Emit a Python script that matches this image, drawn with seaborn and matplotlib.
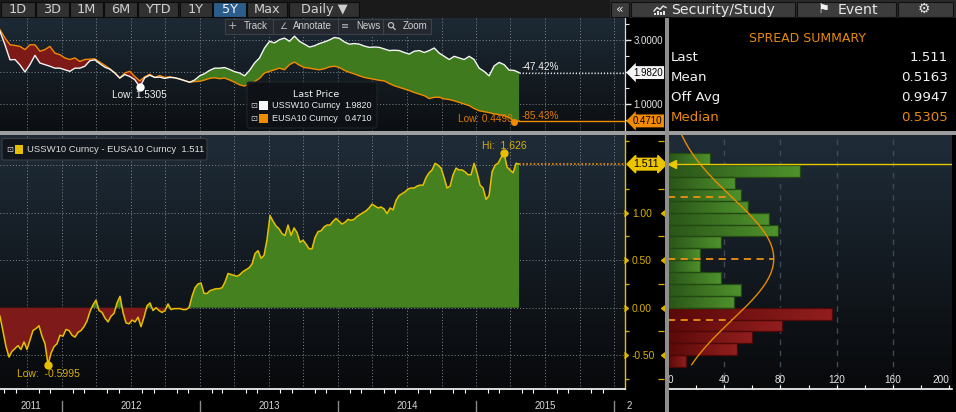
import numpy as np
import pandas as pd
import matplotlib
matplotlib.use("Agg")
import matplotlib.pyplot as plt
import matplotlib.dates as mdates
from matplotlib.colors import LinearSegmentedColormap
from matplotlib.patches import Rectangle, FancyBboxPatch, Circle
import seaborn as sns

# ---------------------------------------------------------------- data
start_date = "2011-07-22"
end_date = "2015-04-24"
view_end = "2016-01-29"

# USSW10 Curncy (white) and EUSA10 Curncy (orange), sampled evenly in time
ussw10 = [3.27, 2.85, 2.38, 2.39, 2.22, 2.00, 2.23, 2.52, 2.28, 2.23,
          2.18, 2.12, 2.12, 2.07, 2.02, 2.12, 2.12, 2.18, 2.35, 2.38,
          2.26, 2.15, 2.09, 1.97, 1.81, 1.92, 1.86, 1.76, 1.5305, 1.82,
          1.90, 1.83, 1.84, 1.80, 1.83, 1.82, 1.78, 1.73, 1.68, 1.75,
          1.88, 1.95, 2.05, 2.12, 2.12, 2.14, 2.08, 2.01, 1.97, 1.88,
          2.05, 2.28, 2.44, 2.75, 2.96, 2.91, 3.01, 3.06, 2.96, 3.12,
          2.96, 2.87, 2.78, 2.82, 2.89, 2.94, 3.00, 3.08, 3.05, 2.94,
          2.87, 2.89, 2.87, 2.81, 2.77, 2.78, 2.77, 2.72, 2.67, 2.68,
          2.67, 2.61, 2.56, 2.65, 2.67, 2.61, 2.67, 2.75, 2.59, 2.49,
          2.39, 2.49, 2.44, 2.39, 2.49, 2.39, 2.12, 2.02, 1.88, 2.19,
          2.30, 2.23, 2.06, 2.05, 1.982]
eusa10 = [3.32, 3.06, 2.85, 2.83, 2.80, 2.70, 2.85, 2.85, 2.65, 2.70,
          2.80, 2.59, 2.54, 2.44, 2.39, 2.44, 2.33, 2.39, 2.40, 2.41,
          2.31, 2.21, 2.10, 1.97, 1.81, 1.97, 2.02, 1.86, 1.72, 1.85,
          1.93, 1.83, 1.89, 1.83, 1.85, 1.82, 1.78, 1.73, 1.68, 1.70,
          1.71, 1.75, 1.80, 1.82, 1.79, 1.81, 1.75, 1.68, 1.60, 1.56,
          1.63, 1.70, 1.80, 1.97, 2.02, 2.07, 2.12, 2.07, 2.23, 2.31,
          2.21, 2.14, 2.12, 2.09, 2.07, 2.10, 2.16, 2.18, 2.14, 2.05,
          1.99, 1.94, 1.88, 1.83, 1.80, 1.77, 1.74, 1.72, 1.64, 1.57,
          1.52, 1.47, 1.42, 1.36, 1.31, 1.26, 1.17, 1.21, 1.21, 1.16,
          1.14, 1.10, 1.05, 1.00, 0.95, 0.86, 0.79, 0.76, 0.73, 0.69,
          0.67, 0.63, 0.58, 0.449, 0.471]

# USSW10 - EUSA10 spread, sampled evenly in time
spread = [-0.09, -0.25, -0.41, -0.52, -0.46, -0.43, -0.40, -0.44, -0.36, -0.44,
          -0.34, -0.24, -0.22, -0.19, -0.30, -0.38, -0.5995, -0.48, -0.41, -0.38,
          -0.29, -0.30, -0.23, -0.24, -0.29, -0.31, -0.26, -0.24, -0.20, -0.14,
          -0.04, 0.03, 0.08, -0.03, -0.05, -0.11, -0.15, -0.09, -0.06, 0.05,
          0.12, -0.05, -0.16, -0.17, -0.13, -0.15, -0.10, -0.20, -0.10, 0.02,
          0.05, -0.03, 0.00, -0.03, -0.05, -0.03, 0.04, -0.02, -0.01, -0.01,
          -0.01, -0.02, -0.02, 0.00, 0.12, 0.21, 0.25, 0.26, 0.15, 0.15,
          0.18, 0.19, 0.20, 0.20, 0.21, 0.27, 0.36, 0.35, 0.34, 0.33,
          0.35, 0.38, 0.40, 0.42, 0.46, 0.57, 0.60, 0.52, 0.55, 0.72,
          0.97, 0.91, 0.86, 0.83, 0.78, 0.76, 0.87, 0.76, 0.84, 0.79,
          0.69, 0.71, 0.67, 0.62, 0.62, 0.74, 0.80, 0.81, 0.85, 0.87,
          0.87, 0.91, 0.94, 0.91, 0.88, 0.90, 0.93, 0.92, 0.93, 0.96,
          0.98, 1.00, 1.02, 1.05, 1.09, 1.07, 1.05, 1.06, 1.04, 0.99,
          1.05, 1.03, 1.13, 1.18, 1.20, 1.22, 1.25, 1.26, 1.26, 1.28,
          1.29, 1.29, 1.37, 1.42, 1.45, 1.52, 1.50, 1.47, 1.37, 1.26,
          1.28, 1.40, 1.47, 1.45, 1.45, 1.43, 1.40, 1.40, 1.52, 1.42,
          1.29, 1.26, 1.14, 1.18, 1.43, 1.50, 1.52, 1.58, 1.626, 1.48,
          1.45, 1.42, 1.52, 1.511]

ussw10_chg_pct = -47.42
eusa10_chg_pct = -85.43

summary_labels = ["Last", "Mean", "Off Avg", "Median"]
summary_values = ["1.511", "0.5163", "0.9947", "0.5305"]
spread_mean = 0.5163
spread_std = 0.645

hist_lower_edges = [-0.625, -0.5, -0.375, -0.25, -0.125, 0.0, 0.125, 0.25, 0.375,
                    0.5, 0.625, 0.75, 0.875, 1.0, 1.125, 1.25, 1.375, 1.5, 1.625]
hist_counts = [13, 49, 60, 81, 117, 47, 52, 38, 23, 23, 38, 78, 72, 57, 52, 48, 94, 30, 1]
hist_bin_width = 0.125
hist_ticks = [0, 40, 80, 120, 160, 200]

range_buttons = ["1D", "3D", "1M", "6M", "YTD", "1Y", "5Y", "Max", "Daily \u25BC"]
tool_buttons = ["Track", "Annotate", "News", "Zoom"]

# ---------------------------------------------------------------- style
plt.rcParams["font.family"] = ["Liberation Sans", "DejaVu Sans"]
DJ = ["DejaVu Sans"]
LB = ["Liberation Sans", "DejaVu Sans"]

W, H = 956, 412
fig = plt.figure(figsize=(W / 100, H / 100), dpi=100, facecolor="black")


def frect(x0, y0, x1, y1):
    return [x0 / W, 1 - y1 / H, (x1 - x0) / W, (y1 - y0) / H]


def grad_bg(ax, top, bottom):
    cm = LinearSegmentedColormap.from_list("bg", [bottom, top])
    ax.imshow(np.linspace(0, 1, 256).reshape(-1, 1), extent=[0, 1, 0, 1],
              transform=ax.transAxes, origin="lower", aspect="auto", cmap=cm,
              zorder=0, interpolation="bilinear")


GRID = dict(color="#a3abb3", linestyle=(0, (1, 2.2)), linewidth=0.7, alpha=0.75)
YEL = "#e6c000"
YEL_T = "#d8b000"
ORG = "#f28b00"

x_left = mdates.date2num(pd.Timestamp(start_date).to_pydatetime())
x_right = mdates.date2num(pd.Timestamp(view_end).to_pydatetime())
top_x = mdates.date2num(pd.date_range(start_date, end_date, periods=len(ussw10)).to_pydatetime())
spr_x = mdates.date2num(pd.date_range(start_date, end_date, periods=len(spread)).to_pydatetime())
quarters = mdates.date2num(pd.date_range("2011-10-01", "2016-01-01", freq="QS").to_pydatetime())
months = mdates.date2num(pd.date_range("2011-08-01", "2016-01-01", freq="MS").to_pydatetime())
year_starts = mdates.date2num(pd.date_range("2012-01-01", "2016-01-01", freq="YS").to_pydatetime())

# ---------------------------------------------------------------- top panel
ax_t = fig.add_axes(frect(0, 18, 625, 131))
grad_bg(ax_t, "#1d2a35", "#0c0f12")
w = np.asarray(ussw10)
o = np.asarray(eusa10)
for q in quarters:
    ax_t.axvline(q, zorder=1, **GRID)
for v in (1, 2, 3):
    ax_t.axhline(v, zorder=1, **GRID)
ax_t.fill_between(top_x, w, o, where=w >= o, interpolate=True, color="#3f7a1e", lw=0, zorder=2)
ax_t.fill_between(top_x, w, o, where=w < o, interpolate=True, color="#7d1a17", lw=0, zorder=2)
sns.lineplot(x=top_x, y=o, ax=ax_t, color=ORG, linewidth=1.0, zorder=3)
sns.lineplot(x=top_x, y=w, ax=ax_t, color="#f4f4f4", linewidth=1.0, zorder=4)
ax_t.plot([top_x[-1], x_right], [w[-1], w[-1]], color="#e8e8e8", lw=0.9, ls=(0, (1, 1.5)), zorder=3)
ax_t.plot([top_x[-1], x_right], [o[-1], o[-1]], color=ORG, lw=1.0, zorder=3)

iw = int(np.argmin(w))
ax_t.plot(top_x[iw], w[iw], "o", color="white", ms=5, zorder=6)
ax_t.annotate(f"Low: {w[iw]:.4f}", xy=(top_x[iw], w[iw]), xytext=(0, -8), textcoords="offset pixels",
              ha="center", va="center", color="#f0f0f0", fontsize=7.2, zorder=6)
io = int(np.argmin(o))
ax_t.plot(top_x[io], o[io], "o", color=ORG, ms=4, zorder=6)
ax_t.annotate(f"Low: {o[io]:.4f}", xy=(top_x[io], o[io]), xytext=(-1, 3), textcoords="offset pixels",
              ha="right", va="center", color="#e07a00", fontsize=7.2, zorder=6)
ax_t.annotate(f"{ussw10_chg_pct:.2f}%", xy=(top_x[-1], w[-1]), xytext=(2, 6), textcoords="offset pixels",
              ha="left", va="center", color="#f0f0f0", fontsize=7.2, zorder=6)
ax_t.annotate(f"{eusa10_chg_pct:.2f}%", xy=(top_x[-1], o[-1]), xytext=(2, 5), textcoords="offset pixels",
              ha="left", va="center", color="#e07a00", fontsize=7.2, zorder=6)

ax_t.set_xlim(x_left, x_right)
ax_t.set_ylim(0.156, 3.6875)
ax_t.set_xticks([])
ax_t.yaxis.tick_right()
ax_t.set_yticks([1, 2, 3])
ax_t.set_yticklabels(["1.0000", "", "3.0000"])
ax_t.set_yticks([0.5, 1.5, 2.5, 3.5], minor=True)
ax_t.tick_params(axis="y", which="major", colors="#e6e6e6", labelsize=7, length=4, width=1, pad=2)
ax_t.tick_params(axis="y", which="minor", colors="#e6e6e6", length=3, width=0.8)
for sp in ("left", "top", "bottom"):
    ax_t.spines[sp].set_visible(False)
ax_t.spines["right"].set_color("#dcdcdc")
ax_t.spines["right"].set_linewidth(0.9)
ytr_t = ax_t.get_yaxis_transform()
ax_t.annotate(f"{w[-1]:.4f}", xy=(1, w[-1]), xycoords=ytr_t, xytext=(8, 0), textcoords="offset pixels",
              ha="left", va="center", fontsize=7, color="black", annotation_clip=False, zorder=10,
              bbox=dict(boxstyle="larrow,pad=0.15", fc="#f4f4f4", ec="none"))
ax_t.annotate(f"{o[-1]:.4f}", xy=(1, o[-1]), xycoords=ytr_t, xytext=(8, 0), textcoords="offset pixels",
              ha="left", va="center", fontsize=7, color="black", annotation_clip=False, zorder=10,
              bbox=dict(boxstyle="larrow,pad=0.15", fc=ORG, ec="none"))

# ---------------------------------------------------------------- spread panel
ax_b = fig.add_axes(frect(0, 135, 625, 389))
grad_bg(ax_b, "#1f2c38", "#08090b")
s = np.asarray(spread)
ax_b.fill_between(spr_x, s, 0, where=s >= 0, interpolate=True, color="#45821f", lw=0, zorder=2)
ax_b.fill_between(spr_x, s, 0, where=s < 0, interpolate=True, color="#7e1a19", lw=0, zorder=2)
sns.lineplot(x=spr_x, y=s, ax=ax_b, color=YEL, linewidth=1.1, zorder=4)
ax_b.plot([spr_x[-1], x_right], [s[-1], s[-1]], color="#f09000", lw=1.2, ls=(0, (1, 1.2)), zorder=4)

il = int(np.argmin(s))
ax_b.plot(spr_x[il], s[il], "o", color=YEL, ms=5, zorder=6)
ax_b.annotate(f"Low:  {s[il]:.4f}", xy=(spr_x[il], s[il]), xytext=(0, -9), textcoords="offset pixels",
              ha="center", va="center", color=YEL_T, fontsize=7.5, zorder=6)
ih = int(np.argmax(s))
ax_b.plot(spr_x[ih], s[ih], "o", color=YEL, ms=5, zorder=6)
ax_b.annotate(f"Hi:  {s[ih]:.3f}", xy=(spr_x[ih], s[ih]), xytext=(0, 7), textcoords="offset pixels",
              ha="center", va="center", color=YEL_T, fontsize=7.5, zorder=6)

ax_b.set_xlim(x_left, x_right)
ax_b.set_ylim(-0.856, 1.818)
ax_b.set_xticks(quarters)
ax_b.set_xticks(months, minor=True)
ax_b.tick_params(axis="x", which="major", length=0, labelbottom=False)
ax_b.tick_params(axis="x", which="minor", length=3, width=0.8, color="white", direction="out")
ax_b.yaxis.tick_right()
maj = [-0.5, 0.0, 0.5, 1.0, 1.5]
ax_b.set_yticks(maj)
ax_b.set_yticklabels(["-0.50", "0.00", "0.50", "1.00", ""])
ax_b.set_yticks([-0.75, -0.25, 0.25, 0.75, 1.25, 1.75], minor=True)
ax_b.tick_params(axis="y", which="major", colors=YEL_T, labelsize=7.4, length=0, pad=5)
ax_b.tick_params(axis="y", which="minor", colors=YEL_T, length=3, width=0.9)
ax_b.grid(True, which="major", zorder=1, **GRID)
for sp in ("left", "top"):
    ax_b.spines[sp].set_visible(False)
ax_b.spines["right"].set_color(YEL)
ax_b.spines["right"].set_linewidth(1.0)
ax_b.spines["bottom"].set_color("white")
ax_b.spines["bottom"].set_linewidth(1.2)
ytr_b = ax_b.get_yaxis_transform()
ax_b.plot(np.full(4, 1.004), maj[:4], ls="none", marker=5, ms=4, color=YEL_T, transform=ytr_b, clip_on=False)
ax_b.plot(np.full(4, 1.058), maj[:4], ls="none", marker=4, ms=4, color=YEL_T, transform=ytr_b, clip_on=False)
ax_b.plot(np.full(6, 1.058), [-0.75, -0.25, 0.25, 0.75, 1.25, 1.75], ls="none", marker="_", ms=4,
          mew=0.9, color=YEL_T, transform=ytr_b, clip_on=False)
ax_b.annotate(f"{s[-1]:.3f}", xy=(1, s[-1]), xycoords=ytr_b, xytext=(8, 0), textcoords="offset pixels",
              ha="left", va="center", fontsize=7.6, color="black", annotation_clip=False, zorder=10,
              bbox=dict(boxstyle="darrow,pad=0.08", fc="#ecc400", ec="#ecc400"))

xtr_b = ax_b.get_xaxis_transform()
for yr in range(2011, 2016):
    a = max(x_left, mdates.date2num(pd.Timestamp(f"{yr}-01-01").to_pydatetime()))
    b = min(x_right, mdates.date2num(pd.Timestamp(f"{yr + 1}-01-01").to_pydatetime()))
    ax_b.text((a + b) / 2, -0.065, str(yr), transform=xtr_b, ha="center", va="center",
              color="#d8d8d8", fontsize=6.9, clip_on=False)
ax_b.text(1.003, -0.065, "2", transform=ax_b.transAxes, ha="left", va="center",
          color="#d8d8d8", fontsize=6.9, clip_on=False)
for ys in year_starts:
    ax_b.plot([ys, ys], [-0.047, -0.095], transform=xtr_b, color="#8a8a8a", lw=1, clip_on=False)

# ---------------------------------------------------------------- histogram panel
ax_h = fig.add_axes(frect(668, 135, 952, 389))
grad_bg(ax_h, "#1f2c38", "#08090b")
for xv in hist_ticks[1:-1]:
    ax_h.axvline(xv, color="#3e4955", lw=1.0, ls=(0, (4, 4)), zorder=1)
centers = np.asarray(hist_lower_edges) + hist_bin_width / 2
counts = np.asarray(hist_counts, dtype=float)
bar_cols = ["#3b7a20" if c > 0 else "#7e1a19" for c in centers]
edge_cols = ["#234a13" if c > 0 else "#4e0808" for c in centers]
bars = ax_h.barh(centers, counts, height=hist_bin_width, color=bar_cols, lw=0, zorder=2)
g_cm = LinearSegmentedColormap.from_list("gg", ["#2a5519", "#4f922c"])
r_cm = LinearSegmentedColormap.from_list("rr", ["#5a0909", "#931e1e"])
for patch, c, n in zip(bars.patches, centers, counts):
    im = ax_h.imshow(np.linspace(0, 1, 64).reshape(1, -1),
                     extent=[0, max(n, 1), c - hist_bin_width / 2, c + hist_bin_width / 2],
                     aspect="auto", cmap=g_cm if c > 0 else r_cm, origin="lower",
                     zorder=2.5, interpolation="bilinear")
    im.set_clip_path(patch)
ax_h.barh(centers, counts, height=hist_bin_width, fill=False, edgecolor=edge_cols, lw=0.9, zorder=3)

n_scale = counts.sum() * hist_bin_width / (spread_std * np.sqrt(2 * np.pi))


def normal_count(v):
    return n_scale * np.exp(-0.5 * ((v - spread_mean) / spread_std) ** 2)


yy = np.linspace(-0.6, 1.82, 300)
ax_h.plot(normal_count(yy), yy, color="#e88a00", lw=1.0, zorder=4)
for lv in (spread_mean - spread_std, spread_mean, spread_mean + spread_std):
    ax_h.plot([0, normal_count(lv)], [lv, lv], color="#ef9010", lw=1.3, ls=(0, (4, 3)), zorder=4)
ax_h.axhline(s[-1], color="#e8c800", lw=1.0, zorder=5)
ax_h.plot([3], [s[-1]], marker="<", ms=6, color="#e8c800", zorder=6, clip_on=False)

ax_h.set_xlim(0, 202)
ax_h.set_ylim(-0.856, 1.818)
ax_h.set_yticks([])
ax_h.set_xticks(np.arange(0, 201, 20))
ax_h.tick_params(axis="x", length=3, width=0.8, color="white", direction="in", labelbottom=False)
for sp in ("left", "top", "right"):
    ax_h.spines[sp].set_visible(False)
ax_h.spines["bottom"].set_color("white")
ax_h.spines["bottom"].set_linewidth(1.2)
xtr_h = ax_h.get_xaxis_transform()
for t in hist_ticks:
    ha = "left" if t == hist_ticks[0] else ("right" if t == hist_ticks[-1] else "center")
    ax_h.text(t, 0.035, str(t), transform=xtr_h, ha=ha, va="center", color="#e6e6e6", fontsize=7.2)

# ---------------------------------------------------------------- overlay chrome
ov = fig.add_axes([0, 0, 1, 1], zorder=20)
ov.set_xlim(0, W)
ov.set_ylim(H, 0)
ov.axis("off")
ov.patch.set_alpha(0)

# separators
ov.add_patch(Rectangle((0, 131), W, 3.5, color="#9d9d9d", lw=0))
ov.add_patch(Rectangle((665.5, 18), 3.5, H - 18, color="#8e8e8e", lw=0))

# toolbar left
ov.add_patch(Rectangle((0, 0), 612, 18, color="#1a1a1a", lw=0))
btn_x = [(1, 35), (36, 69), (70, 103), (104, 137), (138, 178), (180, 212), (213, 246), (247, 287), (289, 359)]
for (x0, x1), lab in zip(btn_x, range_buttons):
    active = lab == "5Y"
    ov.add_patch(Rectangle((x0, 1.5), x1 - x0, 15.5, fc="#2b5d8c" if active else "#313131",
                           ec="#0c0c0c", lw=0.8))
    ov.text((x0 + x1) / 2, 9.6, lab, ha="center", va="center", fontsize=9.3, family=DJ,
            color="#f2f2f2" if active else "#cfcfcf")

# toolbar right
ov.add_patch(Rectangle((610, 0), W - 610, 18, color="#2a2a2a", lw=0))
for (x0, x1) in [(611, 629), (631, 795), (797, 896), (898, 953)]:
    ov.add_patch(Rectangle((x0, 1.5), x1 - x0, 15.5, fc="#3c3c3c", ec="#111111", lw=0.8))
ov.text(620, 9.5, "\u00AB", ha="center", va="center", fontsize=9, family=DJ, color="#e6e6e6")
ov.plot([654, 657, 660, 663, 666], [11, 7.5, 9.5, 6, 7.5], color="#e6e6e6", lw=1)
for bx, bh in zip([654.5, 657.5, 660.5, 663.5], [2.5, 4, 3, 4.5]):
    ov.add_patch(Rectangle((bx, 15 - bh), 2, bh, color="#e6e6e6", lw=0))
ov.text(671, 9.6, "Security/Study", ha="left", va="center", fontsize=10.2, family=DJ, color="#e6e6e6")
ov.text(824, 9.6, "\u2691", ha="center", va="center", fontsize=9.5, family=DJ, color="#f0f0f0")
ov.text(838, 9.6, "Event", ha="left", va="center", fontsize=10.2, family=DJ, color="#e6e6e6")
ov.text(923.5, 9.3, "\u2699", ha="center", va="center", fontsize=10, family=DJ, color="#e6e6e6")

# chart tools bar
ov.add_patch(Rectangle((225, 18.5), 206, 15.5, fc="#262a2f", ec="#3d4349", lw=0.8, alpha=0.95))
for sx in (273.3, 338.3, 383.3):
    ov.plot([sx, sx], [19, 33.5], color="#3d4349", lw=0.8)
ov.text(232.7, 26.2, "+", ha="center", va="center", fontsize=8, family=DJ, color="#b8b8b8")
ov.text(283, 26.2, "\u2220", ha="center", va="center", fontsize=6.5, family=DJ, color="#b8b8b8")
ov.text(345, 26.2, "\u2261", ha="center", va="center", fontsize=7, family=DJ, color="#b8b8b8")
ov.add_patch(Circle((391, 25.2), 2.6, fill=False, ec="#b8b8b8", lw=0.9))
ov.plot([392.8, 395], [27.2, 29.4], color="#b8b8b8", lw=1)
for tx, lab in zip([244, 293, 356, 403], tool_buttons):
    ov.text(tx, 26.2, lab, ha="left", va="center", fontsize=7, family=LB, color="#cfcfcf")

# top legend box
ov.add_patch(FancyBboxPatch((247, 82), 130, 46, boxstyle="round,pad=0,rounding_size=2",
                            fc="#0e1216", ec="#20262c", lw=0.8, alpha=0.92))
ov.text(315.7, 94, "Last Price", ha="center", va="center", fontsize=6.8, family=DJ, color="#f0f0f0")
for yrow, col, name, val in [(105.5, "#f6f6f6", "USSW10 Curncy", f"{w[-1]:.4f}"),
                             (118, ORG, "EUSA10 Curncy", f"{o[-1]:.4f}")]:
    ov.text(254, yrow, "\u22A1", ha="center", va="center", fontsize=6, family=DJ, color="#cfcfcf")
    ov.add_patch(Rectangle((259.5, yrow - 4.5), 9, 9, color=col, lw=0))
    ov.text(271.7, yrow, name, ha="left", va="center", fontsize=6.5, family=LB, color="#ececec")
    ov.text(371.7, yrow, val, ha="right", va="center", fontsize=6.5, family=LB, color="#ececec")

# lower legend box
ov.add_patch(FancyBboxPatch((2, 138.5), 205, 21.5, boxstyle="round,pad=0,rounding_size=2",
                            fc="#10151a", ec="#3b4147", lw=0.8, alpha=0.95))
ov.text(10, 149.5, "\u22A1", ha="center", va="center", fontsize=6, family=DJ, color="#cfcfcf")
ov.add_patch(Rectangle((15, 145), 8.5, 9, color=YEL, lw=0))
ov.text(26.7, 149.5, f"USSW10 Curncy - EUSA10 Curncy  {s[-1]:.3f}", ha="left", va="center",
        fontsize=6.8, family=LB, color="#dcdcdc")

# spread summary
ov.text(808, 38, "SPREAD SUMMARY", ha="center", va="center", fontsize=9, family=DJ, color="#e8890c")
for i, (lab, val) in enumerate(zip(summary_labels, summary_values)):
    c = "#e8890c" if lab == "Median" else "#f2f2f2"
    yrow = 57.5 + 20 * i
    ov.text(671, yrow, lab, ha="left", va="center", fontsize=9.6, family=DJ, color=c)
    ov.text(948, yrow, val, ha="right", va="center", fontsize=9.6, family=DJ, color=c)

fig.savefig("out.png", dpi=100, facecolor="black")
